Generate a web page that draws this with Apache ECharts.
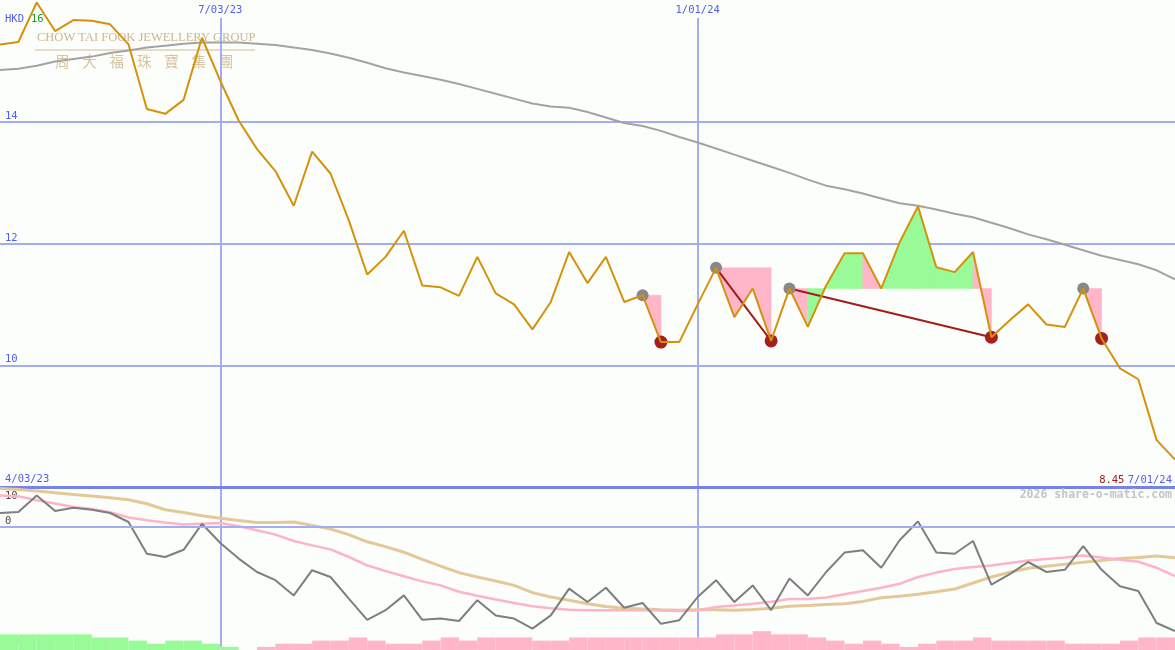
<!DOCTYPE html>
<html><head><meta charset="utf-8">
<script src="https://cdn.jsdelivr.net/npm/echarts@6/dist/echarts.min.js"></script>
<style>html,body{margin:0;padding:0;background:#fcfefc}#c{width:1175px;height:650px}</style>
</head><body><div id="c"></div>
<script>
// ---- data (weekly) ----
const dates = ['4/10/23','4/17/23','4/24/23','5/01/23','5/08/23','5/15/23','5/22/23','5/29/23','6/05/23','6/12/23','6/19/23','6/26/23','7/03/23','7/10/23','7/17/23','7/24/23','7/31/23','8/07/23','8/14/23','8/21/23','8/28/23','9/04/23','9/11/23','9/18/23','9/25/23','10/02/23','10/09/23','10/16/23','10/23/23','10/30/23','11/06/23','11/13/23','11/20/23','11/27/23','12/04/23','12/11/23','12/18/23','12/25/23','1/01/24','1/08/24','1/15/24','1/22/24','1/29/24','2/05/24','2/12/24','2/19/24','2/26/24','3/04/24','3/11/24','3/18/24','3/25/24','4/01/24','4/08/24','4/15/24','4/22/24','4/29/24','5/06/24','5/13/24','5/20/24','5/27/24','6/03/24','6/10/24','6/17/24','6/24/24','7/01/24'];
const price = [15.27,15.31,15.96,15.49,15.67,15.66,15.60,15.27,14.21,14.13,14.36,15.38,14.67,14.02,13.55,13.19,12.62,13.51,13.15,12.38,11.49,11.78,12.21,11.31,11.28,11.14,11.78,11.18,11.00,10.59,11.04,11.86,11.35,11.78,11.04,11.15,10.38,10.38,11.00,11.60,10.79,11.26,10.40,11.26,10.63,11.31,11.84,11.84,11.26,12.02,12.61,11.61,11.53,11.86,10.46,10.74,11.00,10.67,10.63,11.26,10.44,9.95,9.77,8.77,8.45];
const priceMA = [14.85,14.87,14.92,14.99,15.03,15.07,15.13,15.17,15.22,15.25,15.28,15.30,15.30,15.30,15.28,15.26,15.22,15.18,15.12,15.05,14.97,14.88,14.81,14.75,14.69,14.62,14.54,14.46,14.38,14.30,14.25,14.23,14.16,14.07,13.98,13.93,13.85,13.75,13.66,13.56,13.46,13.36,13.26,13.16,13.05,12.95,12.89,12.82,12.74,12.66,12.62,12.56,12.49,12.43,12.34,12.25,12.15,12.07,11.98,11.89,11.80,11.73,11.66,11.56,11.41];
const osc = [3.5,3.75,7.9,4.0,4.8,4.3,3.5,1.25,-6.7,-7.5,-5.7,0.8,-4.0,-7.9,-11.25,-13.3,-17.1,-10.8,-12.5,-17.9,-23.2,-20.8,-17.1,-23.2,-22.9,-23.5,-18.3,-22.1,-22.9,-25.4,-22.1,-15.4,-18.75,-15.2,-20.2,-19.0,-24.2,-23.3,-17.5,-13.3,-18.75,-14.6,-20.8,-12.9,-17.1,-11.25,-6.4,-5.8,-10.2,-3.3,1.4,-6.4,-6.7,-3.5,-14.4,-11.8,-8.75,-11.25,-10.7,-4.8,-10.7,-14.8,-16.0,-24.0,-26.0];
const oscPink = [7.9,7.7,6.7,5.9,5.0,4.5,3.7,2.4,1.7,1.1,0.6,0.8,1.0,0.2,-0.8,-1.9,-3.5,-4.6,-5.6,-7.5,-9.6,-11.0,-12.3,-13.6,-14.6,-16.2,-17.2,-18.1,-19.0,-19.8,-20.3,-20.7,-20.8,-20.8,-20.8,-20.8,-20.9,-21.0,-20.8,-20.0,-19.6,-19.2,-18.7,-18.0,-18.0,-17.6,-16.8,-16.0,-15.2,-14.2,-12.5,-11.4,-10.5,-10.0,-9.6,-9.0,-8.4,-8.0,-7.6,-7.1,-7.6,-8.2,-8.7,-10.2,-12.3];
const oscTan = [9.6,9.35,9.0,8.55,8.15,7.75,7.3,6.8,5.8,4.3,3.6,2.8,2.2,1.6,1.1,1.1,1.25,0.4,-0.5,-1.9,-3.7,-4.9,-6.3,-8.1,-9.8,-11.4,-12.5,-13.5,-14.6,-16.4,-17.5,-18.3,-19.2,-19.9,-20.3,-20.5,-20.7,-20.8,-20.7,-20.7,-20.8,-20.6,-20.3,-19.8,-19.6,-19.4,-19.2,-18.6,-17.7,-17.3,-16.8,-16.2,-15.5,-14.0,-12.5,-11.3,-10.3,-9.8,-9.3,-8.8,-8.4,-7.9,-7.6,-7.25,-7.7];
// one bar per week interval; positive = green, negative = pink
const weekBars = [5,5,5,5,5,4,4,3,2,3,3,2,1,0,-1,-2,-2,-3,-3,-4,-3,-2,-2,-3,-4,-3,-4,-4,-4,-3,-3,-4,-4,-4,-4,-4,-4,-4,-4,-5,-5,-6,-5,-5,-4,-3,-2,-3,-2,-1,-2,-3,-3,-4,-3,-3,-3,-3,-2,-2,-2,-3,-4,-4];
const peaks = [35,39,43,59];
const troughs = [36,42,54,60];
const connectors = [[39,42],[43,54]];
const fillSegments = [
  {from:35, to:36, colors:'p'},
  {from:39, to:42, colors:'ppp'},
  {from:43, to:54, colors:'pgggpgggggp'},
  {from:59, to:60, colors:'p'}
];
const markedDates = ['7/03/23','1/01/24'];
const priceTicks = [10,12,14];
const oscTicksBottom = [0,-30];
const oscTicksTop = [10];
const startLabel = '4/03/23';
const endLabel = '7/01/24';
const currency = 'HKD';
const topPriceLabel = '16';
const logoEn = 'CHOW TAI FOOK JEWELLERY GROUP';
const logoZh = ['周','大','福','珠','寶','集','團'];
const watermark = '2026 share-o-matic.com';

// ---- styling ----
const BLUE = '#4f5fe6', GRID = '#a3adf3', MONO = 'DejaVu Sans Mono';
const markIdx = markedDates.map(d => dates.indexOf(d));
const isMark = (i) => markIdx.indexOf(i) >= 0;

const fillData = [];
fillSegments.forEach(s => {
  const lvl = price[s.from];
  for (let k = 0; k < s.to - s.from; k++) {
    const i = s.from + k;
    fillData.push([i, lvl, price[i], price[i+1], s.colors[k] === 'g' ? 1 : 0]);
  }
});

const chart = echarts.init(document.getElementById('c'), null, {renderer:'canvas'});

const logoGraphics = [
  {type:'text', left:37, top:31, z:0, style:{text:logoEn, font:'12.5px "Liberation Serif"', fill:'#c9ae82', opacity:0.9}},
  {type:'line', shape:{x1:35, y1:50, x2:255, y2:50}, z:0, style:{stroke:'#d2ba92', lineWidth:1.2}}
].concat(logoZh.map((ch, k) => ({type:'text', left:55 + k*27.3, top:54, z:0,
  style:{text:ch, font:'14.5px "Noto Sans CJK TC"', fill:'#d4bc96', opacity:0.9}})));

const option = {
  backgroundColor:'#fcfefc',
  animation:false,
  grid:[
    {left:0, right:0, top:-2, height:489},
    {left:0, right:0, top:487, height:160},
    {left:0, right:0, top:487, height:163}
  ],
  xAxis:[
    {gridIndex:0, type:'category', data:dates, boundaryGap:false, position:'bottom',
     axisLine:{show:true, onZero:false, lineStyle:{color:'#7783ea', width:3}},
     axisTick:{show:false}, axisLabel:{show:false},
     splitLine:{show:true, interval:(i)=>isMark(i), lineStyle:{color:GRID, width:2}}},
    {gridIndex:0, type:'category', data:dates, boundaryGap:false, position:'top', z:5,
     axisLine:{show:false}, axisTick:{show:false}, splitLine:{show:false},
     axisLabel:{show:true, inside:true, margin:0, interval:(i)=>isMark(i), color:BLUE,
       fontFamily:MONO, fontSize:10.5, lineHeight:12, backgroundColor:'#fcfefc', padding:[4,2,2,2]}},
    {gridIndex:1, type:'category', data:dates, boundaryGap:false,
     axisLine:{show:false}, axisTick:{show:false}, axisLabel:{show:false},
     splitLine:{show:true, interval:(i)=>isMark(i), lineStyle:{color:GRID, width:2}}},
    {gridIndex:2, type:'category', data:dates.slice(1), boundaryGap:true, show:false}
  ],
  yAxis:[
    {gridIndex:0, type:'value', min:8, max:16, interval:2,
     axisLine:{show:false}, axisTick:{show:false}, splitLine:{show:false},
     axisLabel:{inside:true, margin:5, verticalAlign:'bottom', color:BLUE, fontFamily:MONO, fontSize:10.5,
       formatter:(v)=> priceTicks.indexOf(v) >= 0 ? String(v) : ''}},
    {gridIndex:1, type:'value', min:-30, max:10, interval:10, position:'left',
     axisLine:{show:false}, axisTick:{show:false}, splitLine:{show:false},
     axisLabel:{inside:true, margin:5, verticalAlign:'bottom', color:'#4a4a4a', fontFamily:MONO, fontSize:10.5,
       formatter:(v)=> oscTicksBottom.indexOf(v) >= 0 ? String(v) : ''}},
    {gridIndex:1, type:'value', min:-30, max:10, interval:10, position:'left',
     axisLine:{show:false}, axisTick:{show:false}, splitLine:{show:false},
     axisLabel:{inside:true, margin:5, verticalAlign:'top', padding:[4,0,0,0], color:'#4a4a4a', fontFamily:MONO, fontSize:10.5,
       formatter:(v)=> oscTicksTop.indexOf(v) >= 0 ? String(v) : ''}},
    {gridIndex:2, type:'value', min:0, max:52, show:false}
  ],
  graphic:[
    {type:'text', left:5, top:14, z:10, style:{text:currency, font:'10.5px "DejaVu Sans Mono"', fill:BLUE}},
    {type:'text', left:31, top:14, z:10, style:{text:topPriceLabel, font:'10.5px "DejaVu Sans Mono"', fill:'#1f9a1f'}},
    {type:'text', left:5, top:474, z:10, style:{text:startLabel, font:'10.5px "DejaVu Sans Mono"', fill:BLUE}},
    {type:'text', right:3, top:474, z:10, style:{
      text:'{r|' + price[price.length-1].toFixed(2) + '} {b|' + endLabel + '}',
      rich:{r:{fill:'#a31c1c', font:'10.5px "DejaVu Sans Mono"'}, b:{fill:BLUE, font:'10.5px "DejaVu Sans Mono"'}}}},
    {type:'text', right:3, top:489, z:10, style:{text:watermark, font:'bold 11.5px "DejaVu Sans Mono"', fill:'#c4c4c4'}}
  ].concat(logoGraphics),
  series:[
    {type:'custom', xAxisIndex:0, yAxisIndex:0, z:1, silent:true, data:fillData,
     encode:{x:0, y:1},
     renderItem:(params, api) => {
       const i = api.value(0), lvl = api.value(1), a = api.value(2), b = api.value(3);
       const col = api.value(4) === 1 ? '#98fb98' : '#ffb6c8';
       return {type:'polygon', shape:{points:[api.coord([i,lvl]), api.coord([i,a]), api.coord([i+1,b]), api.coord([i+1,lvl])]},
         style:{fill:col, stroke:col, lineWidth:0.6}};
     }},
    {type:'line', name:'MA', xAxisIndex:0, yAxisIndex:0, data:priceMA, symbol:'none', z:2,
     lineStyle:{color:'#a3a3a3', width:2},
     markLine:{silent:true, symbol:'none', label:{show:false}, z:0,
       lineStyle:{color:GRID, width:2, type:'solid'}, data:priceTicks.map(v => ({yAxis:v}))}},
  ].concat(connectors.map(c => ({type:'line', xAxisIndex:0, yAxisIndex:0, symbol:'none', z:3,
     data:[[c[0], price[c[0]]], [c[1], price[c[1]]]], lineStyle:{color:'#a31c1c', width:2}})))
  .concat([
    {type:'scatter', xAxisIndex:0, yAxisIndex:0, z:4, symbolSize:12, itemStyle:{color:'#888888', opacity:1},
     data:peaks.map(i => [i, price[i]])},
    {type:'scatter', xAxisIndex:0, yAxisIndex:0, z:4, symbolSize:13, itemStyle:{color:'#a61e1e', opacity:1},
     data:troughs.map(i => [i, price[i]])},
    {type:'line', name:'Price', xAxisIndex:0, yAxisIndex:0, data:price, symbol:'none', z:5,
     lineStyle:{color:'#d4920c', width:2}},
    {type:'bar', xAxisIndex:3, yAxisIndex:3, z:1, barWidth:'100%', silent:true,
     data:weekBars.map(v => ({value:Math.abs(v), itemStyle:{color: v > 0 ? '#98fb98' : '#ffb6c8'}}))},
    {type:'line', xAxisIndex:2, yAxisIndex:1, data:oscTan, symbol:'none', z:2,
     lineStyle:{color:'#e3c997', width:3},
     markLine:{silent:true, symbol:'none', label:{show:false}, lineStyle:{color:GRID, width:2, type:'solid'}, data:[{yAxis:0}]}},
    {type:'line', xAxisIndex:2, yAxisIndex:1, data:oscPink, symbol:'none', z:3,
     lineStyle:{color:'#ffb3c7', width:2.5}},
    {type:'line', xAxisIndex:2, yAxisIndex:1, data:osc, symbol:'none', z:4,
     lineStyle:{color:'#7e7e7e', width:2}}
  ])
};
chart.setOption(option);
</script></body></html>
